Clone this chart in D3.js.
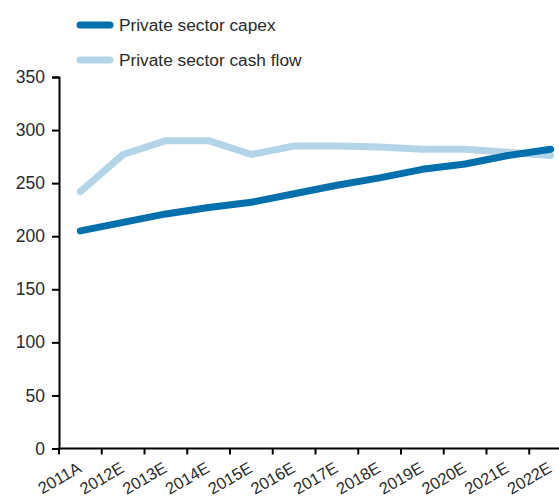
<!DOCTYPE html>
<html><head><meta charset="utf-8">
<script src="https://cdn.jsdelivr.net/npm/d3@7"></script>
<style>body{margin:0;background:#fff}svg{display:block}</style>
</head><body>
<svg id="c" width="559" height="500"></svg>
<script>
const categories = ["2011A","2012E","2013E","2014E","2015E","2016E","2017E","2018E","2019E","2020E","2021E","2022E"];
const capex = [205,213,221,227,232,240,248,255,263,268,276,282];
const cashFlow = [242,277,290,290,277,285,285,284,282,282,279,276];
const yTicks = [0,50,100,150,200,250,300,350];
const seriesNames = ["Private sector capex","Private sector cash flow"];
const colors = ["#0070ad","#b4d5e8"];

const svg = d3.select("#c");
const font = "'Liberation Sans', Arial, sans-serif";
const x = d3.scaleBand().domain(categories).range([59, 59 + 42.75*12]);
const y = d3.scaleLinear().domain([0,350]).range([448.5, 77]);

// lines
const series = [cashFlow, capex];
const sc = [colors[1], colors[0]];
series.forEach((s,i)=>{
  svg.append("path")
    .attr("d", d3.line().x((d,j)=>x(categories[j])+x.bandwidth()/2).y(d=>y(d))(s))
    .attr("fill","none").attr("stroke",sc[i]).attr("stroke-width",7)
    .attr("stroke-linecap","round").attr("stroke-linejoin","round");
});

// y axis
const ya = svg.append("g").attr("transform","translate(59,0)")
  .call(d3.axisLeft(y).tickValues(yTicks).tickSize(7).tickPadding(7));
ya.select(".domain").attr("stroke","#000").attr("stroke-width",2);
ya.selectAll(".tick line").attr("stroke","#000").attr("stroke-width",2);
ya.selectAll("text").attr("font-family",font).attr("font-size",17.5).attr("fill","#2a2a2a");

// x axis
const xa = svg.append("g").attr("transform","translate(0,448.5)");
xa.append("line").attr("x1",58).attr("x2",559).attr("y1",0).attr("y2",0).attr("stroke","#000").attr("stroke-width",2);
xa.selectAll(".tk").data(categories).join("line")
  .attr("x1",d=>x(d)).attr("x2",d=>x(d)).attr("y1",0).attr("y2",6)
  .attr("stroke","#000").attr("stroke-width",2);
xa.selectAll(".lb").data(categories).join("text")
  .attr("transform",d=>`translate(${x(d)+x.bandwidth()/2-4},12) rotate(-30)`)
  .attr("text-anchor","end").attr("dy","0.75em")
  .attr("font-family",font).attr("font-size",16.5).attr("fill","#2a2a2a")
  .text(d=>d);

// legend
seriesNames.forEach((n,i)=>{
  const ly = 25 + i*35;
  svg.append("line").attr("x1",80).attr("x2",110).attr("y1",ly).attr("y2",ly)
    .attr("stroke",colors[i]).attr("stroke-width",7).attr("stroke-linecap","round");
  svg.append("text").attr("x",119).attr("y",ly).attr("dy","0.35em")
    .attr("font-family",font).attr("font-size",17.3).attr("fill","#2a2a2a").text(n);
});
</script>
</body></html>
